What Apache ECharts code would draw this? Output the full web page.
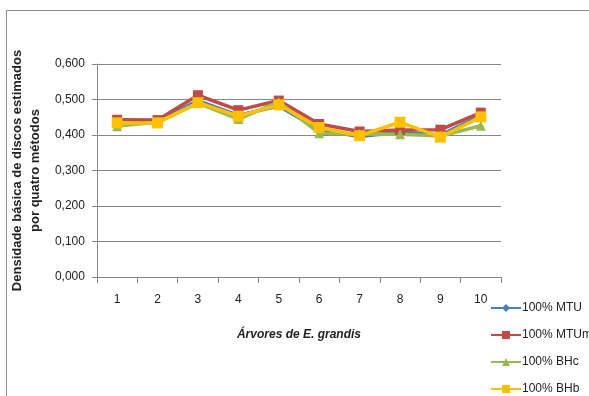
<!DOCTYPE html>
<html><head><meta charset="utf-8">
<script src="https://cdn.jsdelivr.net/npm/echarts@6/dist/echarts.min.js"></script>
<style>html,body{margin:0;padding:0;background:#fff}#c{width:589px;height:396px}</style>
</head><body><div id="c"></div>
<script>
const categories = ['1','2','3','4','5','6','7','8','9','10'];
const seriesNames = ['100% MTU','100% MTUm','100% BHc','100% BHb'];
const mtu  = [0.430,0.438,0.497,0.455,0.482,0.415,0.396,0.408,0.400,0.455];
const mtum = [0.443,0.442,0.512,0.470,0.497,0.431,0.410,0.414,0.415,0.463];
const bhc  = [0.425,0.436,0.490,0.445,0.493,0.405,0.402,0.402,0.397,0.426];
const bhb  = [0.434,0.434,0.491,0.453,0.485,0.421,0.398,0.436,0.394,0.451];
const yTicks = [0,0.1,0.2,0.3,0.4,0.5,0.6];

const colors = ['#4A7EBB','#BE4B48','#98B954','#FFC000'];
const symbols = ['diamond','rect','triangle','rect'];
const sizes = [9,10,10,11];
const data = [mtu,mtum,bhc,bhb];
const chart = echarts.init(document.getElementById('c'));
const font = 'Liberation Sans';
chart.setOption({
  animation:false,
  graphic:[{type:'rect',shape:{x:6.5,y:10.5,width:700,height:500},style:{fill:'none',stroke:'#8c8c8c',lineWidth:1},silent:true}],
  grid:{left:91,right:88,top:64,bottom:119},
  legend:{orient:'vertical',left:490,top:302,bottom:0,itemGap:15,itemWidth:30,itemHeight:10,padding:0,
    textStyle:{fontFamily:font,fontSize:12,lineHeight:12,color:'#222',padding:[0,0,0,-4]},
    data:seriesNames},
  xAxis:{type:'category',data:categories,boundaryGap:true,
    axisLine:{lineStyle:{color:'#868686'}},
    axisTick:{show:true,length:6,alignWithLabel:false,lineStyle:{color:'#868686'}},
    axisLabel:{fontFamily:font,fontSize:12,color:'#222',margin:17},
    name:'{a|Árvores de }{b|E. grandis}',nameLocation:'middle',nameGap:52,
    nameTextStyle:{rich:{a:{fontFamily:font,fontSize:12,fontStyle:'italic',fontWeight:'bold',color:'#222'},b:{fontFamily:font,fontSize:12,fontStyle:'italic',fontWeight:'bold',color:'#222'}}}},
  yAxis:{type:'value',min:0,max:0.6,interval:0.1,
    axisLine:{show:true,lineStyle:{color:'#868686'}},
    axisTick:{show:true,length:5,lineStyle:{color:'#868686'}},
    splitLine:{lineStyle:{color:'#868686'}},
    axisLabel:{fontFamily:font,fontSize:12,color:'#222',margin:12,
      formatter:v=>{const t=yTicks.find(x=>Math.abs(x-v)<1e-9);return (t===undefined?v:t).toFixed(3).replace('.',',');}},
    name:'Densidade básica de discos estimados\npor quatro métodos',nameLocation:'middle',nameGap:42,
    nameTextStyle:{fontFamily:font,fontSize:13,fontWeight:'bold',color:'#222',lineHeight:18}},
  series:seriesNames.map((n,i)=>({name:n,type:'line',data:data[i],symbol:symbols[i],symbolSize:sizes[i],
    itemStyle:{color:colors[i]},lineStyle:{color:colors[i],width:3.5}}))
});
</script></body></html>
